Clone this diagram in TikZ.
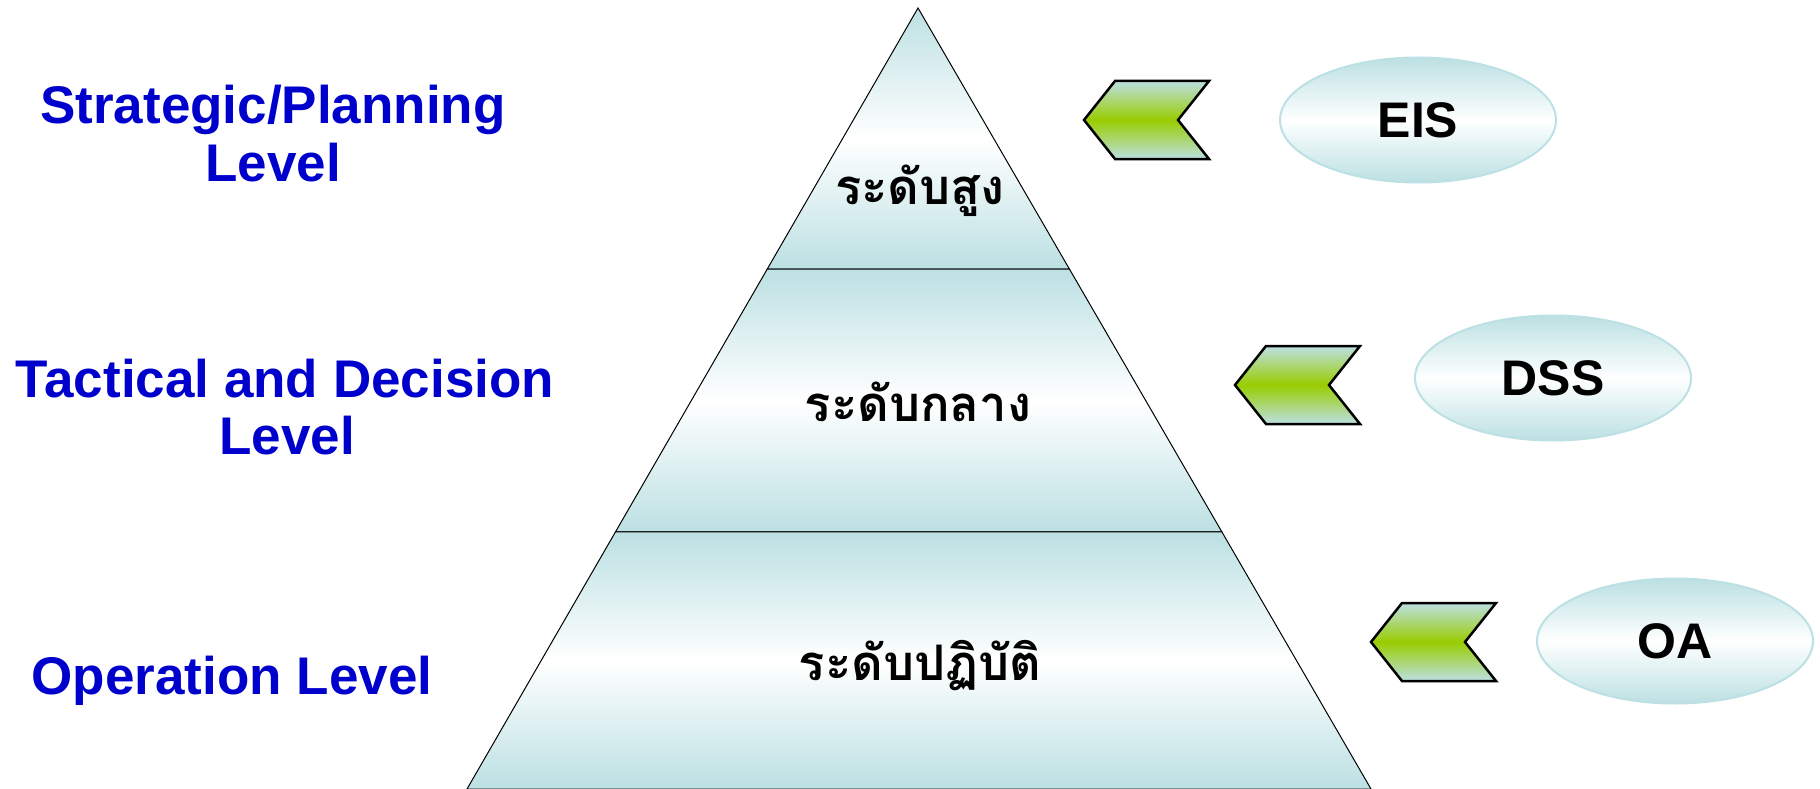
\documentclass[tikz,border=0pt]{standalone}
\usepackage{fontspec}
\setmainfont{Liberation Sans}
\newfontfamily\thaifont[Script=Thai]{Loma}
\usetikzlibrary{calc,shapes.geometric}
\definecolor{tealc}{RGB}{188,224,227}
\definecolor{greenc}{RGB}{153,204,0}
\definecolor{blueT}{RGB}{0,0,204}
\begin{document}
\begin{tikzpicture}[x=1pt,y=-1pt,
  band/.style={draw=black, line width=1pt, top color=tealc, bottom color=tealc, middle color=white},
  chev/.style={draw=black, line width=2.5pt, line join=miter, top color=tealc, bottom color=tealc, middle color=greenc},
  sysnode/.style={ellipse, draw=tealc, line width=2pt, minimum width=276pt, minimum height=125pt, inner sep=0pt,
     top color=tealc, bottom color=tealc, middle color=white, font=\fontsize{50}{56}\selectfont\bfseries},
  lvl/.style={anchor=base, text=blueT, inner sep=0pt, font=\fontsize{53}{57}\selectfont\bfseries},
  thai/.style={anchor=base, inner sep=0pt, font=\thaifont\fontsize{49}{54}\selectfont\bfseries}]
\useasboundingbox (0,0) rectangle (1820,789);
% pyramid
\coordinate (A) at (918,8);
\coordinate (BL) at (467,789);
\coordinate (BR) at (1371,789);
\coordinate (L1) at ($(A)!0.3342!(BL)$);
\coordinate (R1) at ($(A)!0.3342!(BR)$);
\coordinate (L2) at ($(A)!0.6709!(BL)$);
\coordinate (R2) at ($(A)!0.6709!(BR)$);
\path[band] (A) -- (R1) -- (L1) -- cycle;
\path[band] (L1) -- (R1) -- (R2) -- (L2) -- cycle;
\path[band] (L2) -- (R2) -- (BR) -- (BL) -- cycle;
\node[thai] (top) at (920,204) {ระดับสูง};
\node[thai] (mid) at (918,421) {ระดับกลาง};
\node[thai] (low) at (920,680) {ระดับปฏิบัติ};
% level labels
\node[lvl] (strat1) at (273,124) {Strategic/Planning};
\node[lvl] (strat2) at (273,181) {Level};
\node[lvl] (tact1) at (285,397) {Tactical and Decision};
\node[lvl] (tact2) at (287,454) {Level};
\node[lvl] (oper) at (232,694) {Operation Level};
% systems
\node[sysnode] (eis) at (1418,120) {EIS};
\node[sysnode] (dss) at (1553,378) {DSS};
\node[sysnode] (oa) at (1675,641) {OA};
% chevrons
\foreach \n/\x/\y in {a/1084/120, b/1235/385, c/1371/642}{
  \path[chev] (\x,\y) -- ++(31,-39) -- ++(94,0) -- ++(-31,39) -- ++(31,39) -- ++(-94,0) -- cycle;
}
\end{tikzpicture}
\end{document}
